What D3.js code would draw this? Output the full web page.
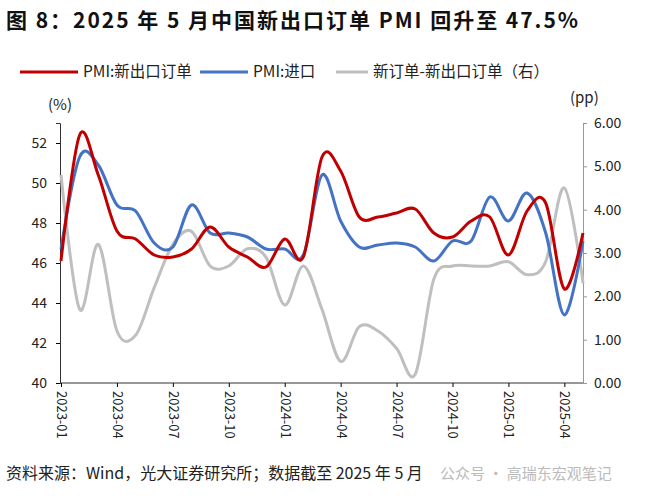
<!DOCTYPE html><html><head><meta charset="utf-8"><script src="https://cdn.jsdelivr.net/npm/d3@7"></script>
<style>body{margin:0;background:#fff}text{font-family:"Noto Sans CJK SC","Noto Sans",sans-serif}</style></head><body>
<svg id="c" width="660" height="500"></svg>
<script>
const months=["2023-01","2023-02","2023-03","2023-04","2023-05","2023-06","2023-07","2023-08","2023-09","2023-10","2023-11","2023-12","2024-01","2024-02","2024-03","2024-04","2024-05","2024-06","2024-07","2024-08","2024-09","2024-10","2024-11","2024-12","2025-01","2025-02","2025-03","2025-04","2025-05"];
const exportPMI=[46.1,52.4,50.4,47.6,47.2,46.4,46.3,46.7,47.8,46.8,46.3,45.8,47.2,46.3,51.3,50.6,48.3,48.3,48.5,48.7,47.5,47.3,48.1,48.3,46.4,48.6,49.0,44.7,47.5];
const importPMI=[46.7,51.3,50.9,48.9,48.6,47.0,46.8,48.9,47.5,47.5,47.3,46.7,46.7,46.4,50.4,48.1,46.8,46.9,47.0,46.8,46.1,47.1,47.1,49.3,48.1,49.5,47.5,43.4,47.1];
const spread=[4.8,1.7,3.2,1.2,1.1,2.2,3.2,3.5,2.7,2.7,3.1,2.9,1.8,2.7,1.7,0.5,1.3,1.2,0.8,0.2,2.4,2.7,2.7,2.7,2.8,2.5,2.8,4.5,2.3];
const leftTicks=[40,42,44,46,48,50,52];
const rightTicks=[0,1,2,3,4,5,6];
const xTickLabels=["2023-01","2023-04","2023-07","2023-10","2024-01","2024-04","2024-07","2024-10","2025-01","2025-04"];
const svg=d3.select("#c");
const L=61,R=583,T=123,B=383;
const x=d3.scalePoint().domain(months).range([L,R]);
const yl=d3.scaleLinear().domain([40,53]).range([B,T]);
const yr=d3.scaleLinear().domain([0,6]).range([B,T]);
svg.append("text").attr("x",6).attr("y",28).attr("font-size",21).attr("font-weight","bold").attr("fill","#111").attr("textLength",572).attr("lengthAdjust","spacing").text("图 8：2025 年 5 月中国新出口订单 PMI 回升至 47.5%");
const ga=svg.append("g").attr("transform",`translate(${L-1},0)`).call(d3.axisLeft(yl).tickValues(leftTicks).tickSize(4).tickFormat(d3.format("d")));
ga.select(".domain").attr("stroke","#333");ga.selectAll("text").attr("font-size",14).attr("fill","#222").attr("dx",-6);
const gr=svg.append("g").attr("transform",`translate(${R},0)`).call(d3.axisRight(yr).tickValues(rightTicks).tickSize(4).tickFormat(d3.format(".2f")));
gr.select(".domain").attr("stroke","#999");gr.selectAll("line").attr("stroke","#999");gr.selectAll("text").attr("font-size",14).attr("fill","#222").attr("dx",4);
const gx=svg.append("g").attr("transform",`translate(0,${B})`).call(d3.axisBottom(x).tickValues(xTickLabels).tickSize(4).tickSizeOuter(0));
gx.select(".domain").attr("stroke","#333").attr("d",`M${L-1},0H${R}`);
gx.selectAll("text").attr("font-size",13).attr("fill","#222").attr("transform","rotate(90)").attr("text-anchor","start").attr("x",8).attr("y",0).attr("dy","0.35em");
svg.append("text").attr("x",48).attr("y",110).attr("font-size",15).attr("fill","#222").text("(%)");
svg.append("text").attr("x",570).attr("y",103).attr("font-size",15).attr("fill","#222").text("(pp)");
const curve=d3.curveCardinal.tension(0);
const lineL=d3.line().x((d,i)=>x(months[i])).y(d=>yl(d)).curve(curve);
const lineR=d3.line().x((d,i)=>x(months[i])).y(d=>yr(d)).curve(curve);
svg.append("path").attr("d",lineR(spread)).attr("fill","none").attr("stroke","#bfbfbf").attr("stroke-width",3);
svg.append("path").attr("d",lineL(importPMI)).attr("fill","none").attr("stroke","#4472c4").attr("stroke-width",3);
svg.append("path").attr("d",lineL(exportPMI)).attr("fill","none").attr("stroke","#c00000").attr("stroke-width",3);
const leg=[["PMI:新出口订单","#c00000",20,58],["PMI:进口","#4472c4",200,48],["新订单-新出口订单（右）","#bfbfbf",336,32]];
leg.forEach(([t,c,lx,w])=>{svg.append("line").attr("x1",lx).attr("x2",lx+w).attr("y1",72).attr("y2",72).attr("stroke",c).attr("stroke-width",3);
svg.append("text").attr("x",lx+w+5).attr("y",77).attr("font-size",15.5).attr("fill","#222").text(t);});
svg.append("text").attr("x",6).attr("y",479).attr("font-size",16).attr("fill","#222").text("资料来源：Wind，光大证券研究所；数据截至 2025 年 5 月");
svg.append("text").attr("x",440).attr("y",479).attr("font-size",15).attr("fill","#bbb").text("公众号 · 高瑞东宏观笔记");
</script></body></html>
